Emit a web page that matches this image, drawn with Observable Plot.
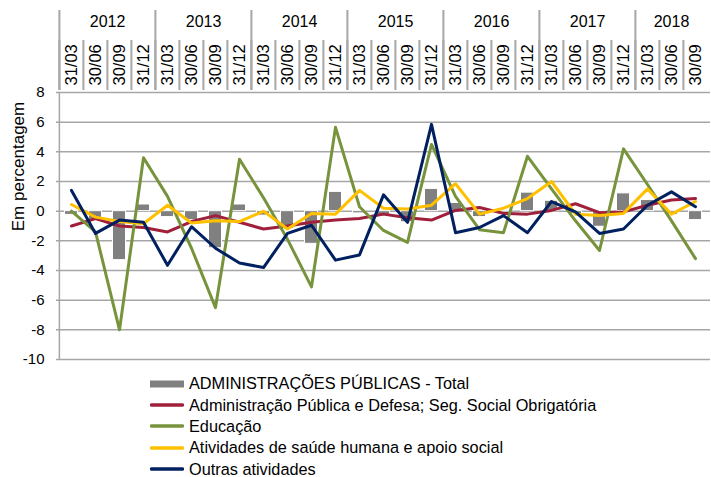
<!DOCTYPE html>
<html>
<head>
<meta charset="utf-8">
<script src="https://cdn.jsdelivr.net/npm/d3@7"></script>
<script src="https://cdn.jsdelivr.net/npm/@observablehq/plot@0.6"></script>
<style>
  html, body { margin: 0; padding: 0; background: #fff; }
  #wrap { position: relative; width: 711px; height: 477px; overflow: hidden; font-family: "Liberation Sans", Arial, sans-serif; }
  #wrap svg { display: block; }
  #legend { position: absolute; left: 150px; top: 373px; font-size: 16.3px; line-height: 13px; color: #000; }
  .row { display: flex; align-items: center; height: 21.4px; white-space: nowrap; }
  .row span { line-height: 13px; }
  .sw { width: 34px; margin-right: 5px; flex: none; }
</style>
</head>
<body>
<div id="wrap"><div id="head"></div><div id="main"></div><div id="legend"></div></div>
<script>
// ---- data ----
const years = ["2012", "2013", "2014", "2015", "2016", "2017", "2018"];
const quarterLabels = ["31/03", "30/06", "30/09", "31/12"];
const quartersPerYear = [4, 4, 4, 4, 4, 4, 3];
const yTicks = [-10, -8, -6, -4, -2, 0, 2, 4, 6, 8];

const totalAP = [-0.25, -0.6, -3.3, 0.45, -0.4, -0.6, -2.5, 0.45, -0.3, -1.2, -2.2, 1.3, -0.15, -0.3, -0.75, 1.5, 0.55, -0.4, -0.1, 1.25, 0.7, -0.2, -1.05, 1.2, 0.75, -0.25, -0.6];
const adminDefesa = [-1.0, -0.5, -1.0, -1.1, -1.4, -0.7, -0.3, -0.75, -1.2, -1.0, -0.75, -0.6, -0.5, -0.2, -0.45, -0.6, 0.05, 0.25, -0.15, -0.2, 0.05, 0.5, -0.1, -0.05, 0.4, 0.75, 0.85];
const educacao = [0.0, -1.4, -8.0, 3.6, 1.0, -2.5, -6.5, 3.5, 0.9, -1.9, -5.1, 5.65, 0.3, -1.3, -2.1, 4.5, 1.0, -1.25, -1.45, 3.7, 1.5, -0.65, -2.65, 4.2, 1.8, -0.65, -3.2];
const saude = [0.45, -0.4, -0.7, -0.85, 0.4, -0.8, -0.65, -0.7, 0.0, -1.2, -0.15, -0.2, 1.4, 0.2, 0.15, 0.4, 1.85, -0.2, 0.2, 0.85, 2.0, -0.2, -0.3, -0.15, 1.5, -0.2, 0.65];
const outras = [1.4, -1.5, -0.6, -0.75, -3.65, -1.05, -2.5, -3.5, -3.8, -1.5, -0.95, -3.3, -2.95, 1.1, -0.75, 5.85, -1.45, -1.1, -0.3, -1.45, 0.65, -0.05, -1.5, -1.2, 0.4, 1.3, 0.3];

const seriesNames = {
  total: "ADMINISTRAÇÕES PÚBLICAS - Total",
  admin: "Administração Pública e Defesa; Seg. Social Obrigatória",
  edu: "Educação",
  saude: "Atividades de saúde humana e apoio social",
  outras: "Outras atividades"
};
const colors = { total: "#808080", admin: "#A0203C", edu: "#77933C", saude: "#FFC000", outras: "#002060" };

// ---- table built from arrays ----
const periods = years.flatMap((y, yi) =>
  quarterLabels.slice(0, quartersPerYear[yi]).map((q, qi) => ({ key: y + " " + q, year: y, quarter: q, qi })));
const rows = periods.map((p, i) => ({
  ...p, total: totalAP[i], admin: adminDefesa[i], edu: educacao[i], saude: saude[i], outras: outras[i]
}));
const keys = periods.map(d => d.key);

const W = 711, ML = 56, MR = 1;
const bw = (W - ML - MR) / keys.length;
const font = "'Liberation Sans', Arial, sans-serif";
const sepColor = "#a6a6a6";

// ---- header (years and quarters) ----
const fullYears = years.filter((y, i) => quartersPerYear[i] === 4);
const partYears = years.filter((y, i) => quartersPerYear[i] !== 4);
const head = Plot.plot({
  width: W, height: 90, marginLeft: ML, marginRight: MR, marginTop: 10, marginBottom: 0,
  style: { fontFamily: font, fontSize: "16px", color: "#000", background: "transparent", overflow: "visible" },
  x: { type: "band", domain: keys, padding: 0, axis: null },
  y: { type: "band", domain: ["q"], range: [40, 90], padding: 0, axis: null },
  marks: [
    Plot.tickX(periods, { x: "key", y: () => "q", dx: -bw / 2, stroke: sepColor, strokeWidth: 2 }),
    Plot.ruleX(periods.filter(d => d.qi === 0), { x: "key", dx: -bw / 2, stroke: sepColor, strokeWidth: 2 }),
    Plot.text(periods, { x: "key", text: "quarter", frameAnchor: "bottom", dy: -5, rotate: -90, textAnchor: "start", lineAnchor: "middle", fontSize: 16.5, fill: "#000" }),
    Plot.text(fullYears, { x: d => d + " " + quarterLabels[1], text: d => d, dx: bw / 2, frameAnchor: "top", dy: 11, lineAnchor: "middle", fontSize: 16, fill: "#000" }),
    Plot.text(partYears, { x: d => d + " " + quarterLabels[1], text: d => d, frameAnchor: "top", dy: 11, lineAnchor: "middle", fontSize: 16, fill: "#000" })
  ]
});
document.getElementById("head").append(head);

// ---- main chart ----
const lineOpts = { x: "key", strokeWidth: 3, strokeLinejoin: "round", strokeLinecap: "round" };
const main = Plot.plot({
  width: W, height: 277, marginLeft: ML, marginRight: MR, marginTop: 2, marginBottom: 8,
  style: { fontFamily: font, fontSize: "15px", color: "#000", background: "transparent", overflow: "visible" },
  x: { type: "band", domain: keys, padding: 0, axis: null },
  y: { domain: [-10, 8], ticks: yTicks, tickSize: 0, tickPadding: 12, tickFormat: d => String(d), label: null },
  marks: [
    Plot.ruleY(yTicks, { stroke: sepColor, strokeWidth: 1.5 }),
    Plot.ruleX([keys[0]], { dx: -bw / 2, stroke: sepColor, strokeWidth: 1.5 }),
    Plot.barY(rows, { x: "key", y: "total", fill: colors.total, stroke: "#fff", strokeWidth: 1, insetLeft: 5.5, insetRight: 5.5 }),
    Plot.line(rows, { ...lineOpts, y: "admin", stroke: colors.admin }),
    Plot.line(rows, { ...lineOpts, y: "edu", stroke: colors.edu }),
    Plot.line(rows, { ...lineOpts, y: "saude", stroke: colors.saude }),
    Plot.line(rows, { ...lineOpts, y: "outras", stroke: colors.outras }),
    Plot.text(["Em percentagem"], { text: d => d, frameAnchor: "top-left", dx: -38, dy: 74, rotate: -90, textAnchor: "middle", lineAnchor: "middle", fontSize: 17, fill: "#000" })
  ]
});
document.getElementById("main").append(main);

// ---- legend ----
const legend = d3.select("#legend");
Object.keys(seriesNames).forEach(k => {
  const row = legend.append("div").attr("class", "row");
  const sw = row.append("svg").attr("class", "sw").attr("width", 34).attr("height", 10);
  if (k === "total") sw.append("rect").attr("x", 0).attr("y", 1.5).attr("width", 34).attr("height", 7).attr("fill", colors.total);
  else sw.append("line").attr("x1", 1.5).attr("x2", 32.5).attr("y1", 5).attr("y2", 5).attr("stroke", colors[k]).attr("stroke-width", 3.5).attr("stroke-linecap", "round");
  row.append("span").text(seriesNames[k]);
});
</script>
</body>
</html>
